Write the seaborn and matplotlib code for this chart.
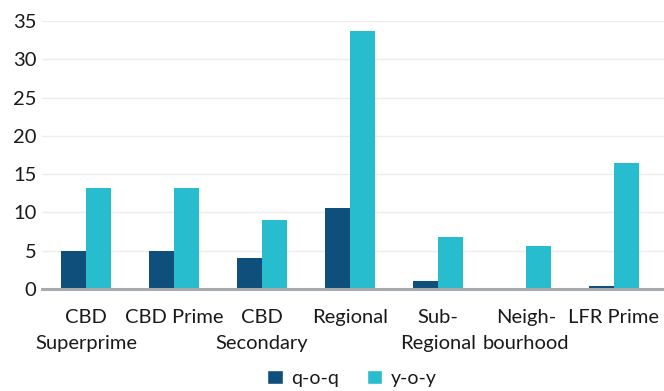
import matplotlib
matplotlib.use("Agg")
import matplotlib.pyplot as plt
import seaborn as sns
import pandas as pd
from matplotlib.patches import Patch

categories = ["CBD\nSuperprime", "CBD Prime", "CBD\nSecondary", "Regional",
              "Sub-\nRegional", "Neigh-\nbourhood", "LFR Prime"]
qoq = [5.0, 5.0, 4.0, 10.6, 1.0, 0.0, 0.4]
yoy = [13.2, 13.2, 9.0, 33.7, 6.8, 5.6, 16.4]
series_names = ["q-o-q", "y-o-y"]
y_ticks = [0, 5, 10, 15, 20, 25, 30, 35]

df = pd.DataFrame({
    "category": categories * 2,
    "series": [series_names[0]] * len(categories) + [series_names[1]] * len(categories),
    "value": qoq + yoy,
})

sns.set_theme(style="white")
plt.rcParams["font.family"] = ["Lato", "DejaVu Sans"]

W, H = 664, 391
fig = plt.figure(figsize=(W / 100, H / 100), dpi=100)
ax = fig.add_axes([42 / W, (H - 289) / H, (W - 42) / W, 268 / H])

palette = {"q-o-q": "#0e4f7b", "y-o-y": "#27bdcf"}
sns.barplot(data=df, x="category", y="value", hue="series", palette=palette,
            width=0.57, gap=0, saturation=1, ax=ax, legend=False,
            linewidth=0, edgecolor="none")

ax.set_ylim(0, 35)
ax.set_xlim(-0.5, 6.57)
ax.set_yticks(y_ticks)
ax.set_yticklabels([str(t) for t in y_ticks])
ax.set_xlabel("")
ax.set_ylabel("")
ax.grid(axis="y", color="#ededed", linewidth=1)
ax.set_axisbelow(True)
for s in ["top", "right", "left"]:
    ax.spines[s].set_visible(False)
ax.spines["bottom"].set_color("#a7abae")
ax.spines["bottom"].set_linewidth(2.2)
ax.tick_params(axis="both", length=0, labelsize=14.5, colors="#1a1a1a")
ax.tick_params(axis="y", pad=4)

# category names: each line of a wrapped name sits on its own row under the bar group
ax.set_xticks(range(len(categories)))
ax.set_xticklabels([""] * len(categories))
xform = ax.get_xaxis_transform()
row_y = [-0.108, -0.205]
for i, name in enumerate(categories):
    for j, line in enumerate(name.split("\n")):
        ax.text(i, row_y[j], line, transform=xform, ha="center", va="center",
                fontsize=14.5, color="#1a1a1a")

handles = [Patch(facecolor=palette[n], label=n) for n in series_names]
fig.legend(handles=handles, loc="upper center", bbox_to_anchor=(0.53, (H - 352) / H),
           ncol=2, frameon=False, fontsize=14, handlelength=0.8, handleheight=0.8,
           columnspacing=1.4, handletextpad=0.45, labelcolor="#1a1a1a")

fig.savefig("out.png", dpi=100)
